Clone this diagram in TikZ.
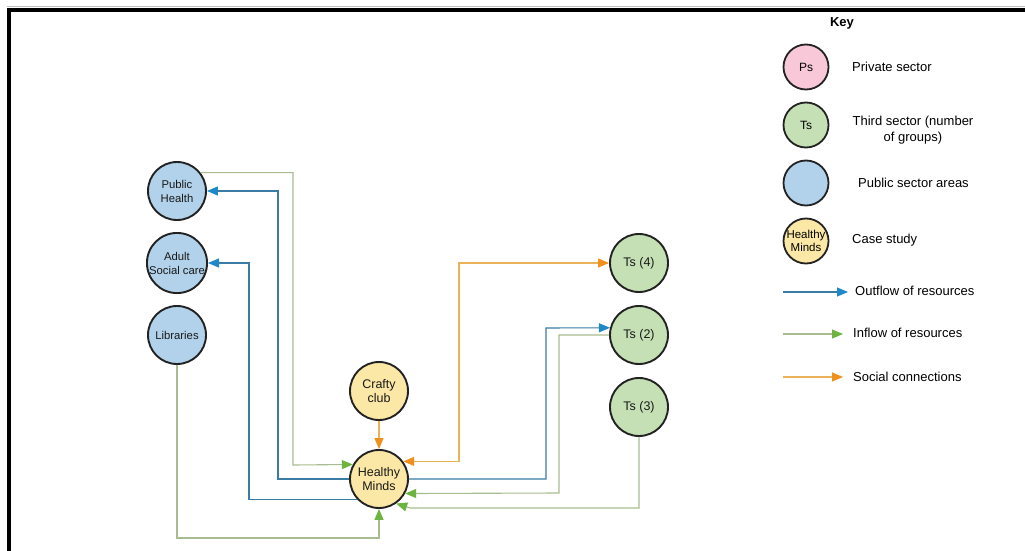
\documentclass[tikz,border=0pt]{standalone}
\usepackage{fontspec}
\setmainfont{Liberation Sans}
\usetikzlibrary{arrows.meta}
\definecolor{pubfill}{HTML}{B1D2EA}
\definecolor{thirdfill}{HTML}{C5E0B4}
\definecolor{casefill}{HTML}{FCE8A6}
\definecolor{pinkfill}{HTML}{F8C8D8}
\definecolor{nodeline}{HTML}{222222}
\definecolor{bline}{HTML}{3A7CA5}
\definecolor{barrow}{HTML}{1F88C9}
\definecolor{gline}{HTML}{A9BC8F}
\definecolor{garrow}{HTML}{6DB33F}
\definecolor{oline}{HTML}{E9B35A}
\definecolor{oarrow}{HTML}{F0901E}
\begin{document}
\begin{tikzpicture}[x=1pt,y=-1pt,
  circ/.style={circle,draw=nodeline,line width=1.9pt,minimum size=58pt,inner sep=0pt,align=center,text=black!90,font=\fontsize{12.5}{14.5}\selectfont},
  pub/.style={circ,fill=pubfill,font=\fontsize{11.3}{14}\selectfont},
  third/.style={circ,fill=thirdfill},
  case/.style={circ,fill=casefill},
  kcirc/.style={circle,draw=nodeline,line width=1.8pt,minimum size=45pt,inner sep=0pt,align=center,font=\fontsize{12}{13}\selectfont},
  keytext/.style={inner sep=0pt,font=\fontsize{13}{16}\selectfont},
  tip/.style={},
  outflow/.style={draw=bline,line width=1.1pt,-{Triangle[length=11pt,width=9pt,color=barrow]}},
  inflow/.style={draw=gline,line width=1.1pt,-{Triangle[length=11pt,width=9pt,color=garrow]}},
  social/.style={draw=oline,line width=1.1pt,-{Triangle[length=11pt,width=9pt,color=oarrow]}},
  socialboth/.style={draw=oline,line width=1.1pt,{Triangle[length=11pt,width=9pt,color=oarrow]}-{Triangle[length=11pt,width=9pt,color=oarrow]}}
]
\useasboundingbox (0,0) rectangle (1025,551);
\fill[white] (0,0) rectangle (1025,551);
% frame
\draw[black!25,line width=0.8pt] (7,6.5) -- (1025,6.5);
\draw[line width=4pt] (7,10) -- (1025,10);
\draw[line width=4pt] (9,8) -- (9,551);

% nodes
\node[pub] (ph) at (177,191) {Public\\Health};
\node[pub] (asc) at (177,263) {Adult\\Social care};
\node[pub] (lib) at (177,335) {Libraries};
\node[case] (cc) at (379,391) {Crafty\\club};
\node[case] (hm) at (379,479) {Healthy\\Minds};
\node[third] (t4) at (639,263) {Ts (4)};
\node[third] (t2) at (639,335) {Ts (2)};
\node[third] (t3) at (639,407) {Ts (3)};

% connectors
\draw[inflow] (ph.38) -| (293,465) -- (hm.151);
\draw[outflow] (hm.west) -| (278,191) -- (ph.east);
\draw[outflow] (hm.224) -| (249,263) -- (asc.east);
\draw[inflow] (lib.south) |- (379,538) -- (hm.south);
\draw[social] (cc.south) -- (hm.north);
\draw[socialboth] (hm.36) -| (459,263) -- (t4.west);
\draw[outflow] (hm.east) -| (546,328) -- (t2.166);
\draw[inflow] (t2.west) -| (559,493) -- (hm.-29);
\draw[inflow] (t3.south) |- (410,508) -- (hm.-55);

% key
\node[keytext,font=\bfseries\fontsize{13}{16}\selectfont] (keyt) at (842,23) {Key};
\node[kcirc,fill=pinkfill] (kps) at (806,67) {Ps};
\node[keytext,anchor=west] (kpst) at (852,67) {Private sector};
\node[kcirc,fill=thirdfill] (kts) at (806,125) {Ts};
\node[keytext,align=center] (ktst) at (913,130) {Third sector (number\\of groups)};
\node[kcirc,fill=pubfill] (kpub) at (806,183) {};
\node[keytext,anchor=west] (kpubt) at (858,183) {Public sector areas};
\node[kcirc,fill=casefill,font=\fontsize{11.5}{13}\selectfont] (khm) at (806,241) {Healthy\\Minds};
\node[keytext,anchor=west] (khmt) at (852,240) {Case study};

\coordinate (o1) at (783,292);
\coordinate (o2) at (848,292);
\draw[outflow] (o1) -- (o2);
\node[keytext,anchor=west] (ot) at (855,291) {Outflow of resources};
\coordinate (i1) at (783,334);
\coordinate (i2) at (843,334);
\draw[inflow] (i1) -- (i2);
\node[keytext,anchor=west] (it) at (853,333) {Inflow of resources};
\coordinate (s1) at (783,377);
\coordinate (s2) at (843,377);
\draw[social] (s1) -- (s2);
\node[keytext,anchor=west] (st) at (853,377) {Social connections};
\end{tikzpicture}
\end{document}
